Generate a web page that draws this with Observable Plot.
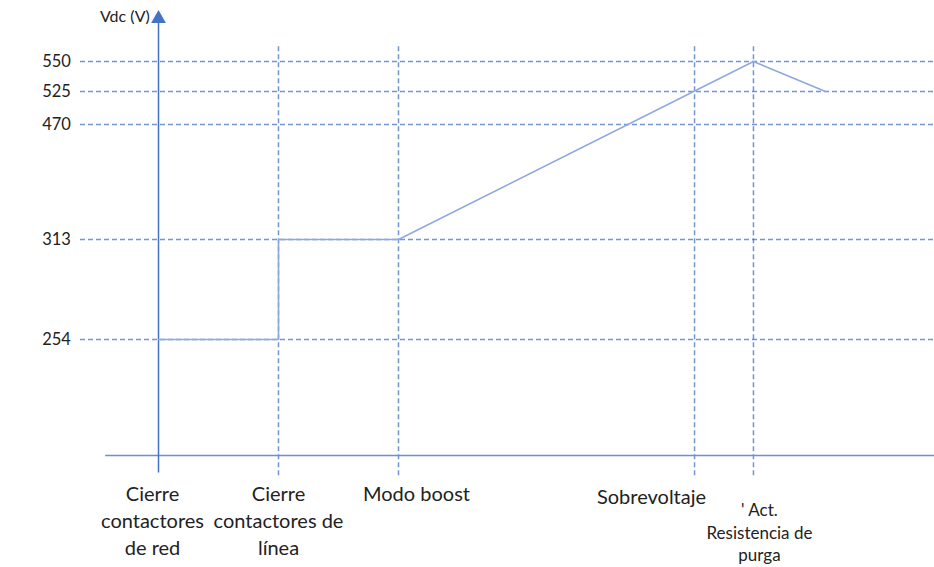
<!DOCTYPE html>
<html>
<head>
<meta charset="utf-8">
<script src="https://cdn.jsdelivr.net/npm/d3@7"></script>
<script src="https://cdn.jsdelivr.net/npm/@observablehq/plot@0.6"></script>
<style>
  html, body { margin: 0; padding: 0; background: #fff; }
  #chart svg { display: block; }
</style>
</head>
<body>
<div id="chart"></div>
<script>
// Voltage levels (V) marked on the vertical axis
const yTicks = [254, 313, 470, 525, 550];
// Events along the horizontal axis (time units)
const eventT = [0, 1, 2, 4.467, 4.958];
const eventLabels = [
  "Cierre\ncontactores\nde red",
  "Cierre\ncontactores de\nlínea",
  "Modo boost",
  "Sobrevoltaje",
  "' Act.\nResistencia de\npurga"
];
// Vdc trace
const traceT = [0, 1, 1, 2, 4.958, 5.558];
const traceV = [254, 254, 313, 313, 550, 525];

const trace = traceT.map((t, i) => ({t, v: traceV[i]}));
const events = eventT.map((t, i) => ({t, label: eventLabels[i]}));
const dashedEvents = events.slice(1);

const blue = "#4472C4";
const font = "Lato, 'Open Sans', sans-serif";
const ink = "#222";

const label = (i, opts) => Plot.text([events[i]], {
  x: "t", y: () => 0, text: "label", fill: ink, lineAnchor: "top", ...opts
});

const chart = Plot.plot({
  width: 934,
  height: 567,
  margin: 0,
  style: {fontFamily: font, background: "#fff"},
  x: {domain: [-1.3167, 6.4667], range: [0, 934], axis: null},
  y: {type: "linear", domain: [-50, 0, 254, 313, 470, 525, 550, 600], range: [478, 455, 339, 239, 124, 91, 61, 10], axis: null},
  marks: [
    // horizontal dashed guides
    Plot.ruleY(yTicks, {x1: -0.65, x2: 6.4667, stroke: blue, strokeOpacity: 0.75, strokeWidth: 1.5, strokeDasharray: "5,3"}),
    // vertical dashed guides
    Plot.ruleX(dashedEvents, {x: "t", y1: -44, y2: 567, stroke: blue, strokeOpacity: 0.75, strokeWidth: 1.5, strokeDasharray: "5,3"}),
    // x axis baseline
    Plot.ruleY([0], {x1: -0.44, x2: 6.4667, stroke: "#6a8fd4", strokeWidth: 1.5}),
    // y axis
    Plot.ruleX([0], {y1: -38, y2: 590, stroke: blue, strokeWidth: 1.5}),
    Plot.dot([0], {x: d => d, y: () => 592, symbol: "triangle", r: 5.5, fill: blue, stroke: "none"}),
    // Vdc trace
    Plot.line(trace, {x: "t", y: "v", stroke: "#8eaadc", strokeWidth: 1.6}),
    // y tick labels
    Plot.text(yTicks, {x: -0.85, y: d => d, text: d => String(d), fontSize: 16.5, fill: ink}),
    // y axis title
    Plot.text(["Vdc (V)"], {x: -0.28, y: () => 594, text: d => d, fontSize: 16, fill: ink}),
    // event labels
    label(0, {fontSize: 20, lineHeight: 1.33, dy: 27, dx: -6}),
    label(1, {fontSize: 20, lineHeight: 1.33, dy: 27}),
    label(2, {fontSize: 20, lineHeight: 1.33, dy: 27, dx: 18}),
    label(3, {fontSize: 20, lineHeight: 1.33, dy: 30, dx: -43}),
    label(4, {fontSize: 17, lineHeight: 1.32, dy: 45, dx: 6})
  ]
});
document.getElementById("chart").appendChild(chart);
</script>
</body>
</html>
